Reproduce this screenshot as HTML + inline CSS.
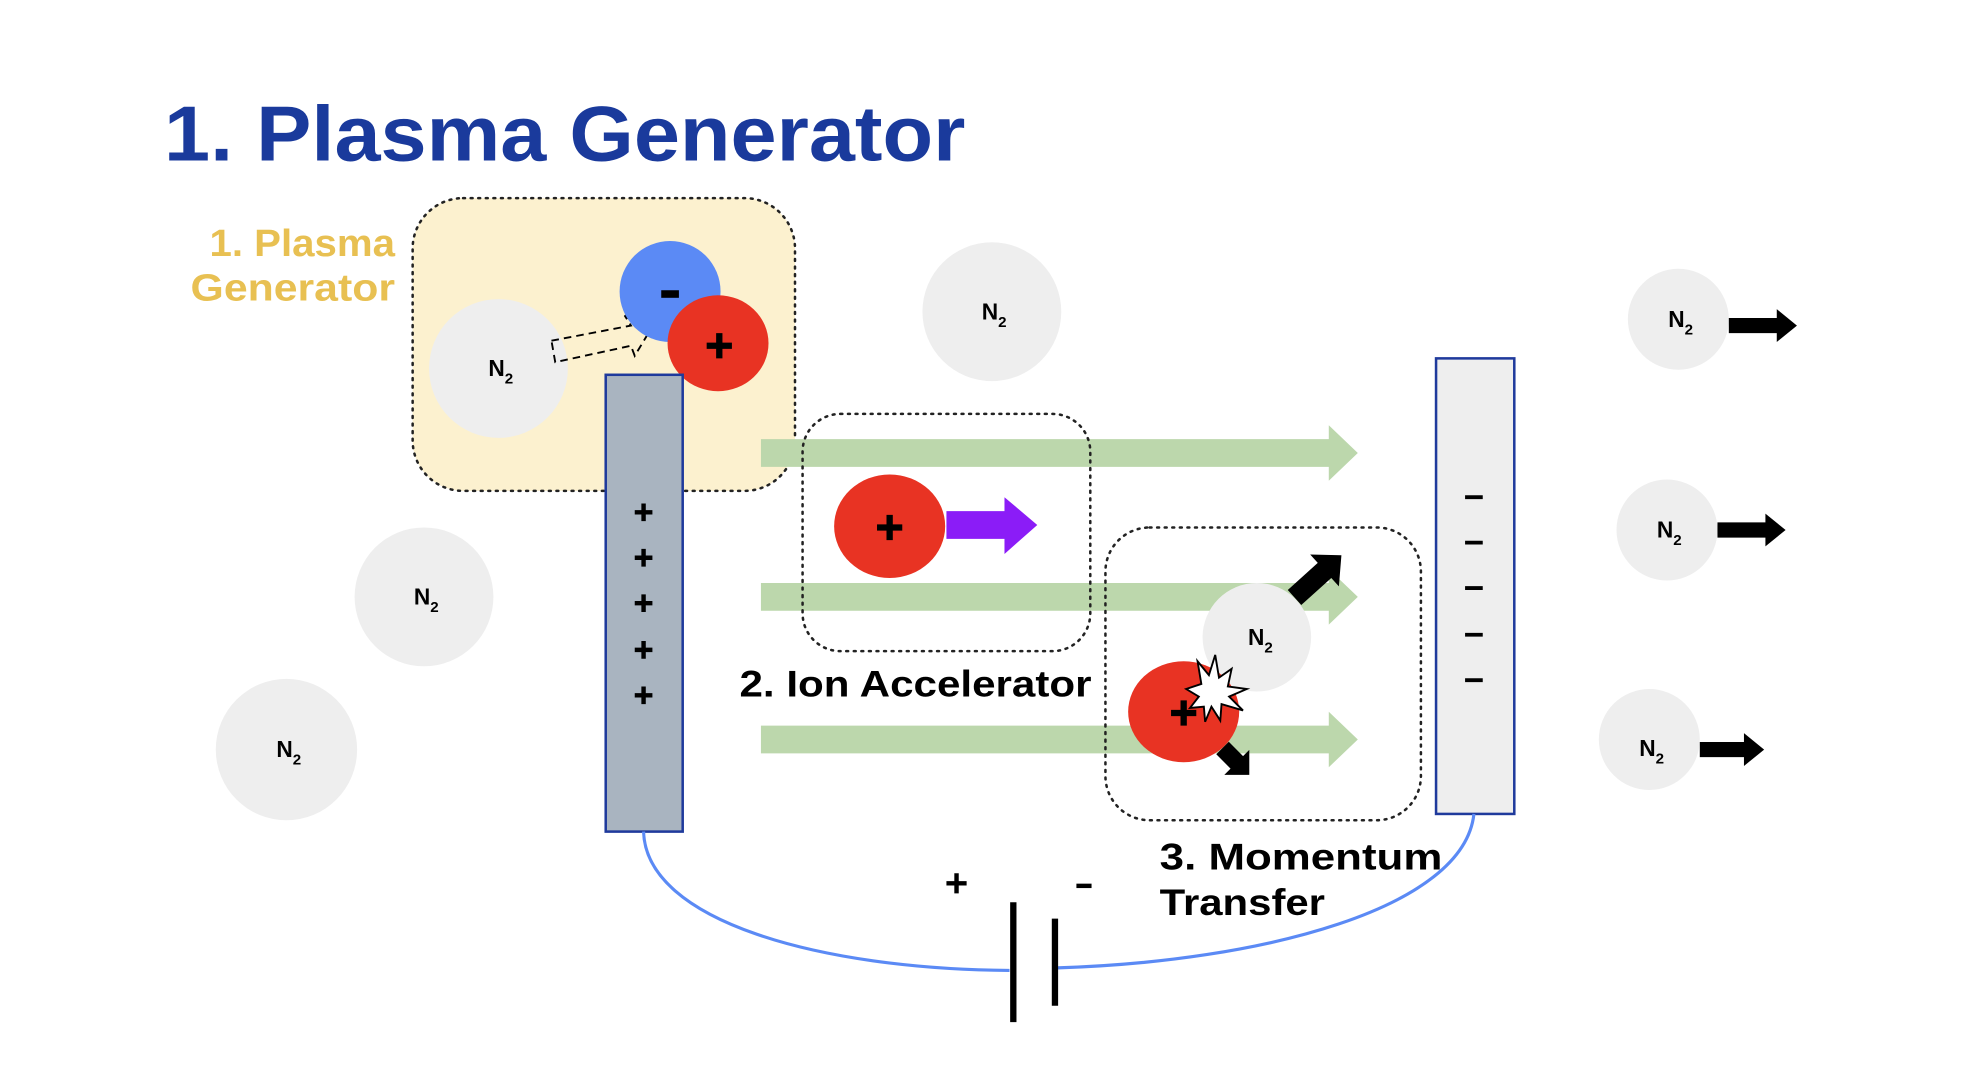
<!DOCTYPE html>
<html><head><meta charset="utf-8"><style>html,body{margin:0;padding:0;background:#fff}svg{display:block}</style></head>
<body>
<svg width="1980" height="1086" viewBox="0 0 1569 860.6" preserveAspectRatio="xMinYMin meet" xmlns="http://www.w3.org/2000/svg" font-family="Liberation Sans, sans-serif" font-weight="bold">
<defs>
<g id="n2t"><text x="-8" y="6" font-size="18">N</text><text x="5" y="12" font-size="12">2</text></g>
</defs>
<text x="130" y="127" font-size="62" fill="#1a3a9c" textLength="635" lengthAdjust="spacingAndGlyphs">1. Plasma Generator</text>

<rect x="327" y="157" width="303" height="232" rx="40" fill="#fcf1cf" stroke="#222" stroke-width="2" stroke-dasharray="1.5 4.5" stroke-linecap="round"/>
<text x="166" y="203" font-size="30" fill="#e8c052" textLength="147" lengthAdjust="spacingAndGlyphs">1. Plasma</text>
<text x="151" y="238" font-size="30" fill="#e8c052" textLength="162" lengthAdjust="spacingAndGlyphs">Generator</text>

<circle cx="395" cy="292" r="55" fill="#eeeeee"/><use href="#n2t" x="395" y="292"/>
<circle cx="786" cy="247" r="55" fill="#eeeeee"/><use href="#n2t" x="786" y="247"/>
<circle cx="336" cy="473" r="55" fill="#eeeeee"/><use href="#n2t" x="336" y="473"/>
<circle cx="227" cy="594" r="56" fill="#eeeeee"/><use href="#n2t" x="227" y="594"/>
<circle cx="1330" cy="253" r="40" fill="#eeeeee"/><use href="#n2t" x="1330" y="253"/>
<circle cx="1321" cy="420" r="40" fill="#eeeeee"/><use href="#n2t" x="1321" y="420"/>
<circle cx="1307" cy="586" r="40" fill="#eeeeee"/><use href="#n2t" x="1307" y="593"/>

<polygon transform="translate(1424,258)" points="0,0 -16,-13 -16,-6 -54,-6 -54,6 -16,6 -16,13" fill="#000"/>
<polygon transform="translate(1415,420)" points="0,0 -16,-13 -16,-6 -54,-6 -54,6 -16,6 -16,13" fill="#000"/>
<polygon transform="translate(1398,594)" points="0,0 -16,-13 -16,-6 -51,-6 -51,6 -16,6 -16,13" fill="#000"/>

<polygon points="437,270 500,258 495,250 515,262 503,282 500,274 440,287" fill="none" stroke="#000" stroke-width="1.5" stroke-dasharray="6 4"/>
<circle cx="531" cy="231" r="40" fill="#5b8af5"/>
<rect x="524" y="230" width="14" height="6" fill="#000"/>
<ellipse cx="569" cy="272" rx="40" ry="38" fill="#e83323"/>
<path d="M560 274h20M570 264v20" stroke="#000" stroke-width="5"/>

<rect x="480" y="297" width="61" height="362" fill="#a9b4c0" stroke="#1f3a9c" stroke-width="2"/>
<g stroke="#000" stroke-width="3.5">
<path d="M503 406h14M510 399v14"/><path d="M503 442h14M510 435v14"/><path d="M503 478h14M510 471v14"/><path d="M503 515h14M510 508v14"/><path d="M503 551h14M510 544v14"/>
</g>

<g fill="#bcd7ac">
<polygon points="603,348 1053,348 1053,337 1076,359 1053,381 1053,370 603,370"/>
<polygon points="603,462 1053,462 1053,451 1076,473 1053,495 1053,484 603,484"/>
<polygon points="603,575 1053,575 1053,564 1076,586 1053,608 1053,597 603,597"/>
</g>

<rect x="636" y="328" width="228" height="188" rx="30" fill="none" stroke="#222" stroke-width="2" stroke-dasharray="1.5 4.5" stroke-linecap="round"/>
<ellipse cx="705" cy="417" rx="44" ry="41" fill="#e83323"/>
<path d="M695 418h20M705 408v20" stroke="#000" stroke-width="5"/>
<polygon points="750,405 796,405 796,394 822,416 796,439 796,427 750,427" fill="#8b1cf7"/>
<text x="586" y="552" font-size="29" fill="#000" textLength="279" lengthAdjust="spacingAndGlyphs">2. Ion Accelerator</text>

<rect x="876" y="418" width="250" height="232" rx="35" fill="none" stroke="#222" stroke-width="2" stroke-dasharray="1.5 4.5" stroke-linecap="round"/>
<circle cx="996" cy="505" r="43" fill="#eeeeee"/><use href="#n2t" x="997" y="505"/>
<ellipse cx="938" cy="564" rx="44" ry="40" fill="#e83323"/>
<path d="M928 565h20M938 555v20" stroke="#000" stroke-width="5"/>
<polygon points="949,524 958,535 963,519 966,537 976,530 973,544 988,546 974,552 985,563 968,558 967,571 960,560 955,572 954,560 943,561 950,552 940,546 952,542" fill="#fff" stroke="#000" stroke-width="1.5"/>
<polygon transform="translate(1063,440) rotate(-42)" points="0,0 -18,-17 -18,-8 -50,-8 -50,8 -18,8 -18,17" fill="#000"/>
<polygon transform="translate(990,614) rotate(45)" points="0,0 -14,-14 -14,-7 -30,-7 -30,7 -14,7 -14,14" fill="#000"/>

<rect x="1138" y="284" width="62" height="361" fill="#eeeeee" stroke="#1f3a9c" stroke-width="2"/>
<g stroke="#000" stroke-width="3">
<path d="M1161 394h14M1161 430h14M1161 466h14M1161 503h14M1161 539h14"/>
</g>
<text x="919" y="689" font-size="29" fill="#000" textLength="224" lengthAdjust="spacingAndGlyphs">3. Momentum</text>
<text x="919" y="725" font-size="29" fill="#000" textLength="131" lengthAdjust="spacingAndGlyphs">Transfer</text>

<path d="M510 659 C512 730 650 768 800 769" fill="none" stroke="#5b8af5" stroke-width="2.5"/>
<path d="M838 767 C1000 762 1160 720 1168 645" fill="none" stroke="#5b8af5" stroke-width="2.5"/>
<path d="M803 715V810M836 728V797" stroke="#000" stroke-width="5"/>
<path d="M750 700h16M758 692v16" stroke="#000" stroke-width="3.5"/>
<path d="M853 702h12" stroke="#000" stroke-width="3.5"/>
</svg>
</body></html>
